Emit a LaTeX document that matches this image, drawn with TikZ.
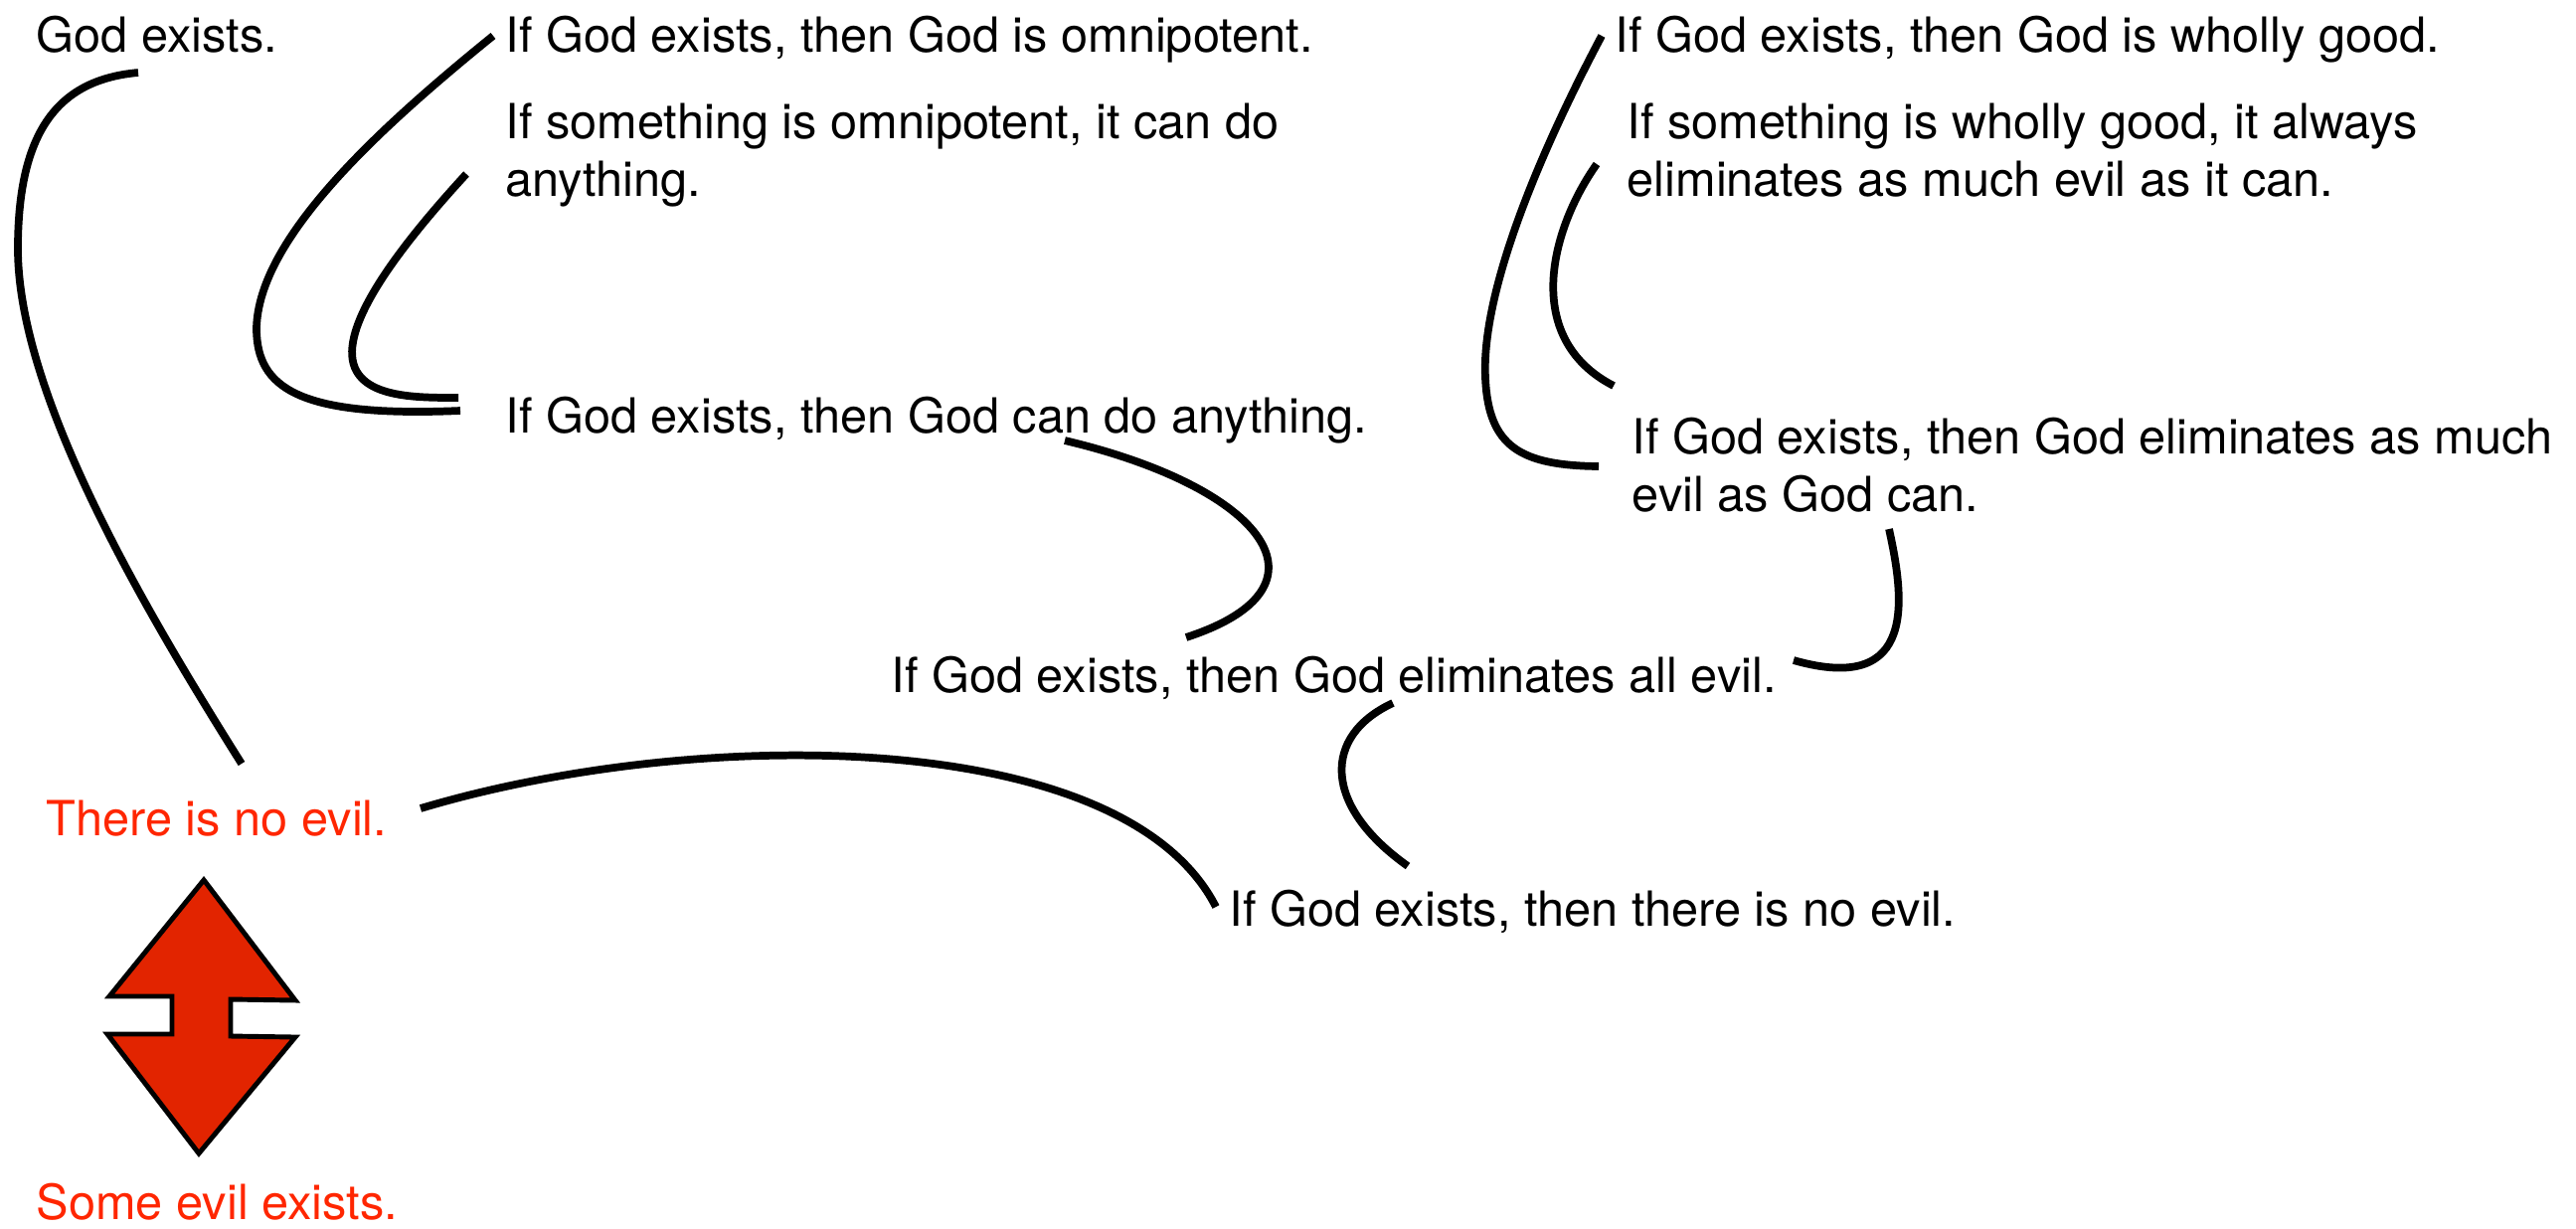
\documentclass[tikz,border=0pt]{standalone}
\usepackage{fontspec}
\setmainfont{TeX Gyre Heros}
\definecolor{evilred}{RGB}{255,38,0}
\definecolor{arrowred}{RGB}{226,36,0}
\tikzset{
  stmt/.style={anchor=base west, inner sep=0pt, align=left, font=\fontsize{13.85}{16.3}\selectfont},
  redstmt/.style={stmt, text=evilred},
  link/.style={line width=2.2pt},
}
\begin{document}
\begin{tikzpicture}[x=0.01cm,y=-0.01cm]
\useasboundingbox (0,0) rectangle (2591,1235);
% statements (multi-line nodes: base = baseline of the last line)
\node[stmt] (god) at (36,52) {God exists.};
\node[stmt] (omni) at (508,52) {If God exists, then God is omnipotent.};
\node[stmt] (somni) at (508,197) {If something is omnipotent, it can do\\anything.};
\node[stmt] (cando) at (508,435) {If God exists, then God can do anything.};
\node[stmt] (wgood) at (1624,52) {If God exists, then God is wholly good.};
\node[stmt] (swgood) at (1636,197) {If something is wholly good, it always\\eliminates as much evil as it can.};
\node[stmt] (elimmuch) at (1641,514) {If God exists, then God eliminates as much\\evil as God can.};
\node[stmt] (elimall) at (896,696) {If God exists, then God eliminates all evil.};
\node[stmt] (gnoevil) at (1236,931) {If God exists, then there is no evil.};
\node[redstmt] (noevil) at (46,840) {There is no evil.};
\node[redstmt] (someevil) at (36,1226) {Some evil exists.};
% connector end points
\coordinate (a1) at (139,73);  \coordinate (a2) at (243,768);
\coordinate (b1) at (496,36);  \coordinate (b2) at (463,413);
\coordinate (c1) at (469,175); \coordinate (c2) at (461,400);
\coordinate (d1) at (1071,443); \coordinate (d2) at (1193,641);
\coordinate (e1) at (1900,532); \coordinate (e2) at (1804,664);
\coordinate (f1) at (1401,707); \coordinate (f2) at (1416,871);
\coordinate (g1) at (423,813); \coordinate (g2) at (1223,912);
\coordinate (h1) at (1611,36); \coordinate (h2) at (1608,469);
\coordinate (i1) at (1606,165); \coordinate (i2) at (1623,388);
% connectors
\draw[link] (a1) .. controls (60,80) and (18,130) .. (18,250) .. controls (18,400) and (150,620) .. (a2);
\draw[link] (b1) .. controls (380,130) and (260,240) .. (258,330) .. controls (258,390) and (300,420) .. (b2);
\draw[link] (c1) .. controls (400,250) and (340,330) .. (357,370) .. controls (370,400) and (420,400) .. (c2);
\draw[link] (d1) .. controls (1270,490) and (1350,590) .. (d2);
\draw[link] (e1) .. controls (1915,600) and (1930,700) .. (e2);
\draw[link] (f1) .. controls (1330,740) and (1330,810) .. (f2);
\draw[link] (g1) .. controls (700,730) and (1130,730) .. (g2);
\draw[link] (h1) .. controls (1540,170) and (1490,300) .. (1494,380) .. controls (1497,450) and (1530,468) .. (h2);
\draw[link] (i1) .. controls (1560,230) and (1530,340) .. (i2);
% double arrow between the red statements
\draw[line width=1.4pt, fill=arrowred, line join=miter]
  (205,885) -- (297,1006) -- (232,1005) -- (232,1042) -- (297,1043)
  -- (200,1160) -- (108,1040) -- (173,1040) -- (173,1002) -- (110,1002) -- cycle;
\end{tikzpicture}
\end{document}
